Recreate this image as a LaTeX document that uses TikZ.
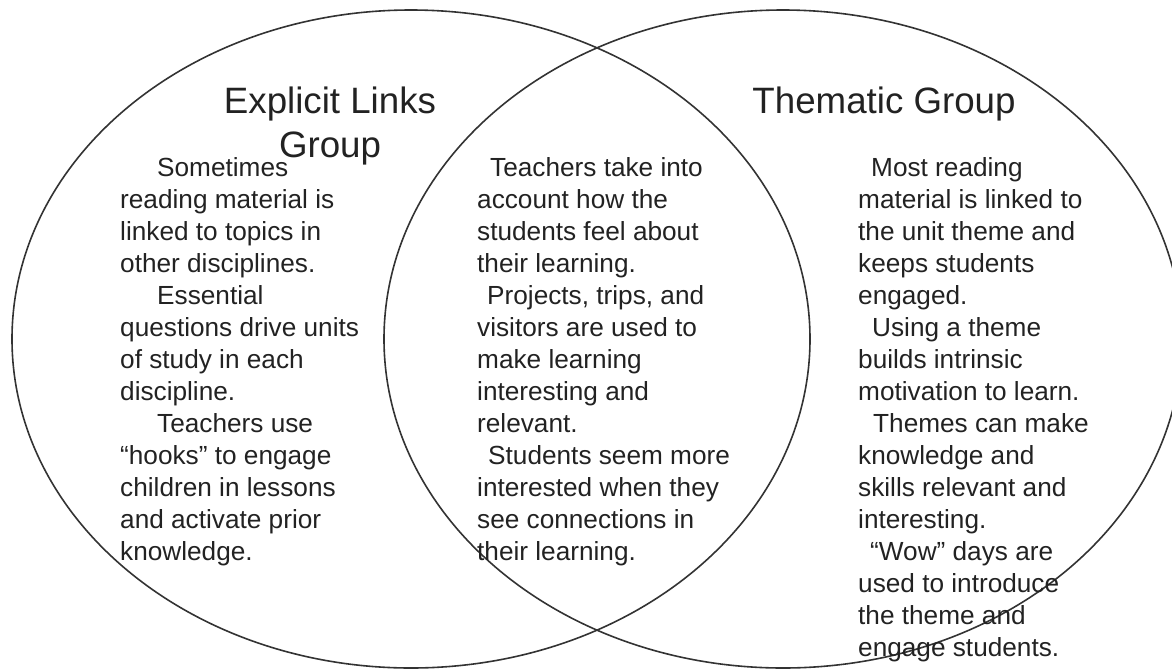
\documentclass[tikz,border=0pt]{standalone}
\usepackage{fontspec}
\setmainfont{Liberation Sans}
\definecolor{ink}{HTML}{222222}
\definecolor{rim}{HTML}{333333}
\newcommand\bodyfont{\fontsize{26.2}{32}\selectfont}
\newcommand\headfont{\fontsize{36.7}{44}\selectfont}
\begin{document}
\begin{tikzpicture}[x=1pt,y=-1pt,
  setcircle/.style={draw=rim, line width=1.6pt},
  heading/.style={anchor=north, inner sep=0pt, align=center, font=\headfont, text=ink},
  body/.style={anchor=north west, inner sep=0pt, align=left, font=\bodyfont, text=ink}]
  \useasboundingbox (0,0) rectangle (1172,670);
  \clip (0,0) rectangle (1172,670);

  % the two overlapping sets
  \draw[setcircle] (411,339) ellipse [x radius=399, y radius=329];
  \draw[setcircle] (783,339) ellipse [x radius=399, y radius=329];

  % set headings
  \node[heading] (hleft) at (330,87) {Explicit Links\\Group};
  \node[heading] (hright) at (884,87) {Thematic Group};

  % left set only
  \node[body] (tleft) at (120,157) {\hspace*{37pt}Sometimes\\
reading material is\\
linked to topics in\\
other disciplines.\\
\hspace*{37pt}Essential\\
questions drive units\\
of study in each\\
discipline.\\
\hspace*{37pt}Teachers use\\
“hooks” to engage\\
children in lessons\\
and activate prior\\
knowledge.};

  % overlap
  \node[body] (tmid) at (477,157) {\hspace*{13pt}Teachers take into\\
account how the\\
students feel about\\
their learning.\\
\hspace*{10pt}Projects, trips, and\\
visitors are used to\\
make learning\\
interesting and\\
relevant.\\
\hspace*{11pt}Students seem more\\
interested when they\\
see connections in\\
their learning.};

  % right set only
  \node[body] (tright) at (858,157) {\hspace*{13pt}Most reading\\
material is linked to\\
the unit theme and\\
keeps students\\
engaged.\\
\hspace*{14pt}Using a theme\\
builds intrinsic\\
motivation to learn.\\
\hspace*{15pt}Themes can make\\
knowledge and\\
skills relevant and\\
interesting.\\
\hspace*{12pt}“Wow” days are\\
used to introduce\\
the theme and\\
engage students.};
\end{tikzpicture}
\end{document}
